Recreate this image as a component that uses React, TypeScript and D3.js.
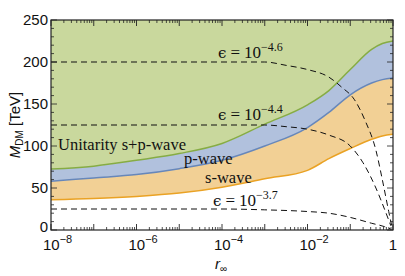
import React from "react";
import * as d3 from "d3";

// exponents of r_inf sampled along the bands
const bandLogR = [-8, -7, -6, -5, -4, -3, -2, -1.5, -1, -0.5, -0.25, 0];
const unitaritySP = [72.6, 76, 83, 91, 103, 126, 149, 166, 191, 215, 222, 225];
const unitarityP = [58, 62, 66, 73, 83, 100, 122, 140, 161, 175, 179, 181];
const unitarityS = [36, 37.5, 40, 44, 51, 61, 71, 85, 97, 108, 112, 114];

// dashed epsilon contours
const eps46LogR = [-8, -3, -2.5, -2, -1.5, -1.2, -0.9, -0.65, -0.4, -0.25, -0.1, -0.03];
const eps46 = [200, 200, 196, 191, 182, 170, 155, 130, 95, 60, 22, 5];
const eps44LogR = [-8, -3, -2.5, -2, -1.5, -1, -0.7, -0.4, -0.2, -0.05];
const eps44 = [125, 125, 123, 120, 113, 100, 80, 50, 25, 5];
const eps37LogR = [-8, -4, -3, -2, -1.5, -1, -0.5, -0.2, -0.05];
const eps37 = [25, 25, 24, 22, 20, 15, 8, 4, 1];

const xTickExp = [-8, -6, -4, -2, 0];
const yTicks = [0, 50, 100, 150, 200, 250];

const W = 405;
const H = 276;
const left = 51, right = 393, top = 20, bottom = 230;

const x = d3.scaleLog().domain([1e-8, 1]).range([left, right]);
const y = d3.scaleLinear().domain([0, 250]).range([bottom, top]);

type P = [number, number];
const pts = (lr: number[], v: number[]): P[] => lr.map((e, i) => [Math.pow(10, e), v[i]]);

const line = d3
  .line<P>()
  .x((d) => x(d[0]))
  .y((d) => y(d[1]))
  .curve(d3.curveMonotoneX);

const band = (lo: number[], hi: number[] | null) =>
  d3
    .area<number>()
    .x((e) => x(Math.pow(10, e)))
    .y0((_, i) => y(lo[i]))
    .y1((_, i) => (hi ? y(hi[i]) : y(250)))
    .curve(d3.curveMonotoneX)(bandLogR) as string;

const minorX: number[] = [];
for (let d = -8; d < 0; d++) for (let k = 2; k < 10; k++) minorX.push(k * Math.pow(10, d));
const minorY = d3.range(0, 251, 10);

const serif = "'Liberation Serif', 'Times New Roman', serif";
const sans = "'Liberation Sans', Arial, sans-serif";

const EpsLabel = ({ xp, yp, exp }: { xp: number; yp: number; exp: string }) => (
  <text x={xp} y={yp} fontFamily={serif} fontSize={17} fill="#111">
    <tspan fontFamily="'DejaVu Serif', serif" fontSize={15}>ϵ</tspan>
    <tspan dx={4}>=</tspan>
    <tspan dx={4}>10</tspan>
    <tspan dy={-7} fontSize={12}>{"\u2212" + exp}</tspan>
  </text>
);

export default function App() {
  return (
    <svg width={W} height={H} style={{ position: "absolute", left: 0, top: 0 }}>
      <defs>
        <clipPath id="plot">
          <rect x={left} y={top} width={right - left} height={bottom - top} />
        </clipPath>
      </defs>
      <rect x={0} y={0} width={W} height={H} fill="#fff" />
      <g clipPath="url(#plot)">
        <path d={band(unitaritySP, null)} fill="#c9d89d" />
        <path d={band(unitarityP, unitaritySP)} fill="#b1c1dd" />
        <path d={band(unitarityS, unitarityP)} fill="#f2d095" />
        <path d={line(pts(bandLogR, unitaritySP)) as string} fill="none" stroke="#86ac44" strokeWidth={1.5} />
        <path d={line(pts(bandLogR, unitarityP)) as string} fill="none" stroke="#6787ba" strokeWidth={1.5} />
        <path d={line(pts(bandLogR, unitarityS)) as string} fill="none" stroke="#eaa224" strokeWidth={1.5} />
        {[pts(eps46LogR, eps46), pts(eps44LogR, eps44), pts(eps37LogR, eps37)].map((p, i) => (
          <path key={i} d={line(p) as string} fill="none" stroke="#111" strokeWidth={1} strokeDasharray="6,4" />
        ))}
      </g>

      <text x={58} y={150} fontFamily={serif} fontSize={16.5} fill="#111">Unitarity s+p-wave</text>
      <text x={184} y={164} fontFamily={serif} fontSize={16.5} fill="#111">p-wave</text>
      <text x={205} y={183} fontFamily={serif} fontSize={16.5} fill="#111">s-wave</text>
      <EpsLabel xp={218} yp={58} exp="4.6" />
      <EpsLabel xp={218} yp={120} exp="4.4" />
      <EpsLabel xp={213} yp={206} exp="3.7" />

      {/* frame and ticks */}
      <rect x={left} y={top} width={right - left} height={bottom - top} fill="none" stroke="#222" strokeWidth={1.2} />
      {minorX.map((r, i) => (
        <g key={"mx" + i} stroke="#222" strokeWidth={0.8}>
          <line x1={x(r)} x2={x(r)} y1={bottom} y2={bottom - 3} />
          <line x1={x(r)} x2={x(r)} y1={top} y2={top + 3} />
        </g>
      ))}
      {d3.range(-8, 1).map((e) => (
        <g key={"Mx" + e} stroke="#222" strokeWidth={0.9}>
          <line x1={x(Math.pow(10, e))} x2={x(Math.pow(10, e))} y1={bottom} y2={bottom - 6} />
          <line x1={x(Math.pow(10, e))} x2={x(Math.pow(10, e))} y1={top} y2={top + 6} />
        </g>
      ))}
      {minorY.map((v) => (
        <g key={"my" + v} stroke="#222" strokeWidth={0.8}>
          <line x1={left} x2={left + (v % 50 === 0 ? 6 : 3)} y1={y(v)} y2={y(v)} />
          <line x1={right} x2={right - (v % 50 === 0 ? 6 : 3)} y1={y(v)} y2={y(v)} />
        </g>
      ))}

      {yTicks.map((v) => (
        <text
          key={"yl" + v}
          x={left - 3}
          y={v === 0 ? y(v) + 2 : y(v) + 5}
          textAnchor="end"
          fontFamily={sans}
          fontSize={15}
          fill="#111"
        >
          {v}
        </text>
      ))}
      {xTickExp.map((e) =>
        e === 0 ? (
          <text key={"xl" + e} x={x(1)} y={250} textAnchor="middle" fontFamily={sans} fontSize={15} fill="#111">1</text>
        ) : (
          <text key={"xl" + e} x={x(Math.pow(10, e)) - 8} y={250} fontFamily={sans} fontSize={15} fill="#111">
            10
            <tspan dy={-7} fontSize={11}>{"\u2212" + -e}</tspan>
          </text>
        )
      )}

      <text transform="translate(20,125) rotate(-90)" textAnchor="middle" fontFamily={sans} fontSize={15} fill="#111">
        <tspan fontStyle="italic">M</tspan>
        <tspan fontSize={10} dy={3}>DM</tspan>
        <tspan dy={-3}> [TeV]</tspan>
      </text>
      <text x={215} y={269} fontFamily={sans} fontSize={15} fill="#111">
        <tspan fontStyle="italic">r</tspan>
        <tspan fontSize={10} dy={3}>∞</tspan>
      </text>
    </svg>
  );
}
